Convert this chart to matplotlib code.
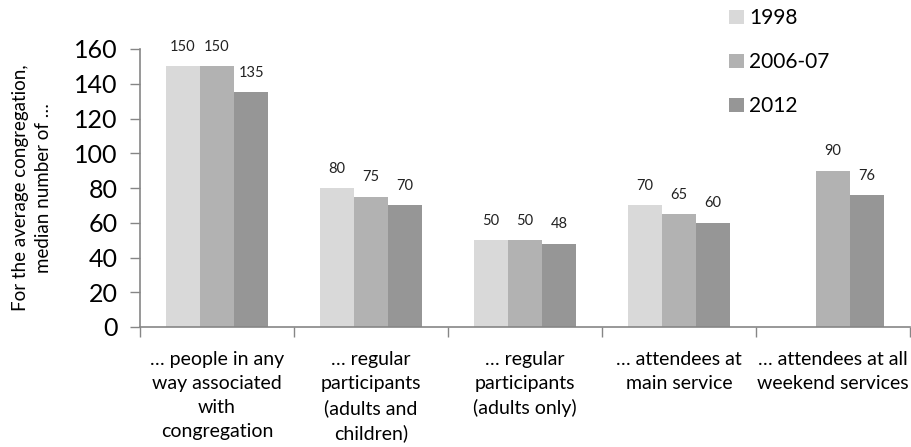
import numpy as np
import matplotlib
matplotlib.use("Agg")
import matplotlib.pyplot as plt

plt.rcParams['font.family'] = ['Lato', 'DejaVu Sans']

categories = [
    "\u2026 people in any\nway associated\nwith\ncongregation",
    "\u2026 regular\nparticipants\n(adults and\nchildren)",
    "\u2026 regular\nparticipants\n(adults only)",
    "\u2026 attendees at\nmain service",
    "\u2026 attendees at all\nweekend services",
]
series_names = ["1998", "2006-07", "2012"]
values_1998 = [150, 80, 50, 70, np.nan]
values_2006 = [150, 75, 50, 65, 90]
values_2012 = [135, 70, 48, 60, 76]
y_ticks = [0, 20, 40, 60, 80, 100, 120, 140, 160]

colors = ["#d9d9d9", "#b2b2b2", "#969696"]
axis_color = "#868686"

fig = plt.figure(figsize=(9.11, 4.47), dpi=100)
ax = fig.add_axes([140 / 911, 1 - 327 / 447, 770 / 911, (327 - 49) / 447])

x = np.arange(len(categories))
width = 0.222
all_series = [values_1998, values_2006, values_2012]
for i, (name, vals, col) in enumerate(zip(series_names, all_series, colors)):
    pos = x + (i - 1) * width
    ax.bar(pos, vals, width=width, color=col, label=name, zorder=2)
    for p, v in zip(pos, vals):
        if np.isnan(v):
            continue
        ax.annotate(f"{v:g}", (p, v), xytext=(0, 14), textcoords="offset points",
                    ha="center", va="center", fontsize=10.5, color="#222222")

ax.set_xlim(-0.5, len(categories) - 0.5)
ax.set_ylim(0, 160)
ax.set_yticks(y_ticks)
ax.set_yticklabels([str(t) for t in y_ticks], fontsize=18)

# Boundary ticks between categories, labels centred under each group
ax.set_xticks(np.arange(-0.5, len(categories)), labels=[""] * (len(categories) + 1))
ax.set_xticks(x, labels=categories, minor=True)
ax.tick_params(axis="x", which="major", length=7, width=1, color=axis_color, direction="out")
ax.tick_params(axis="x", which="minor", length=0, pad=17, labelsize=14)
ax.tick_params(axis="y", length=7, width=1, color=axis_color, direction="out", pad=9)
for lbl in ax.get_xticklabels(minor=True):
    lbl.set_linespacing(1.5)

for side in ["top", "right"]:
    ax.spines[side].set_visible(False)
for side in ["left", "bottom"]:
    ax.spines[side].set_color(axis_color)
    ax.spines[side].set_linewidth(1.2)

ax.set_ylabel("For the average congregation,\nmedian number of \u2026", fontsize=13.5,
              labelpad=16, linespacing=1.45)

leg = fig.legend(loc="upper left", bbox_to_anchor=(721 / 911, 1.0), frameon=False,
                 fontsize=15, handlelength=0.7, handleheight=0.7, handletextpad=0.25,
                 labelspacing=1.15, borderaxespad=0)

fig.savefig("out.png", dpi=100)
